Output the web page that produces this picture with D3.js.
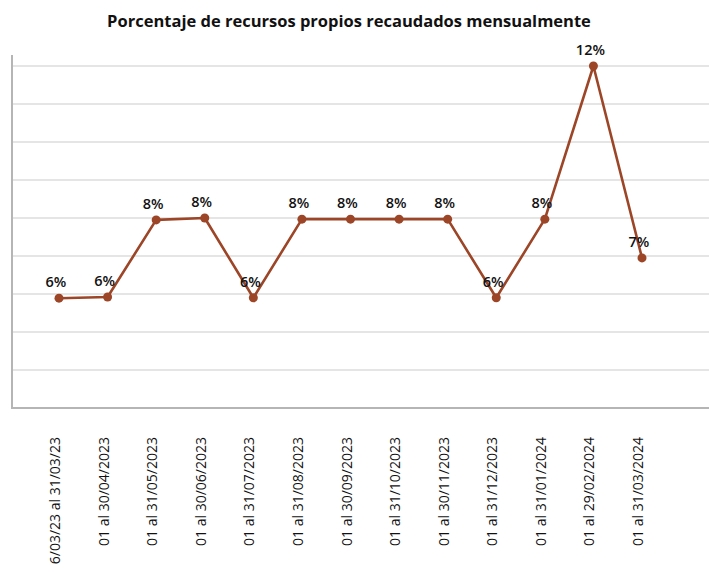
<!DOCTYPE html>
<html>
<head>
<meta charset="utf-8">
<script src="https://cdn.jsdelivr.net/npm/d3@7"></script>
<style>
  body { margin: 0; background: #fff; }
  svg { display: block; font-family: "Open Sans", "Noto Sans", sans-serif; }
</style>
</head>
<body>
<div id="chart"></div>
<script>
// periodos y porcentaje recaudado
const periods = [
    "6/03/23 al 31/03/23", "01 al 30/04/2023", "01 al 31/05/2023", "01 al 30/06/2023",
    "01 al 31/07/2023", "01 al 31/08/2023", "01 al 30/09/2023", "01 al 31/10/2023",
    "01 al 30/11/2023", "01 al 31/12/2023", "01 al 31/01/2024", "01 al 29/02/2024",
    "01 al 31/03/2024"
];
const values = [5.89, 5.92, 7.95, 8.0, 5.9, 7.97, 7.97, 7.97, 7.97, 5.9, 7.97, 12.0, 6.95];
const gridTicks = [3, 4, 5, 6, 7, 8, 9, 10, 11, 12];

function drawChart(id) {

    const width = 709;
    const height = 573;
    const color = "#9c4527";

    const svg = d3.select(id)
        .append("svg")
        .attr("width", width)
        .attr("height", height);

    const xScale = d3.scalePoint()
        .domain(periods)
        .range([59, 642]);

    const yScale = d3.scaleLinear()
        .domain([3, 12])
        .range([408, 66]);

    // title
    svg.append("text")
        .attr("x", 349)
        .attr("y", 27)
        .attr("text-anchor", "middle")
        .style("font-size", "16.5px")
        .style("font-weight", "bold")
        .style("fill", "#111")
        .text("Porcentaje de recursos propios recaudados mensualmente");

    // gridlines
    svg.append("g")
        .selectAll("line")
        .data(gridTicks.slice(1))
        .enter()
        .append("line")
            .attr("x1", 12)
            .attr("x2", width)
            .attr("y1", function(d) { return yScale(d); })
            .attr("y2", function(d) { return yScale(d); })
            .style("stroke", "#dcdcdc")
            .style("stroke-width", 1.3);

    // axes
    svg.append("line")
        .attr("x1", 12).attr("x2", 12)
        .attr("y1", 55).attr("y2", yScale(3))
        .style("stroke", "#b5b5b5")
        .style("stroke-width", 2);

    svg.append("line")
        .attr("x1", 11).attr("x2", width)
        .attr("y1", yScale(3)).attr("y2", yScale(3))
        .style("stroke", "#b5b5b5")
        .style("stroke-width", 2);

    // category labels
    svg.append("g")
        .selectAll("text")
        .data(periods)
        .enter()
        .append("text")
            .attr("transform", function(d) { return `translate(${xScale(d) + 1},437) rotate(-90)`; })
            .attr("text-anchor", "end")
            .style("font-size", "14px")
            .style("font-weight", 500)
            .style("fill", "#111")
            .text(function(d) { return d; });

    const line = d3.line()
        .x(function(d, i) { return xScale(periods[i]); })
        .y(function(d) { return yScale(d); });

    svg.append("path")
        .datum(values)
        .attr("d", line)
        .style("fill", "none")
        .style("stroke", color)
        .style("stroke-width", 2.6)
        .style("stroke-linejoin", "round");

    svg.append("g")
        .selectAll("circle")
        .data(values)
        .enter()
        .append("circle")
            .attr("cx", function(d, i) { return xScale(periods[i]); })
            .attr("cy", function(d) { return yScale(d); })
            .attr("r", 4.5)
            .style("fill", color);

    // data labels
    svg.append("g")
        .selectAll("text")
        .data(values)
        .enter()
        .append("text")
            .attr("x", function(d, i) { return xScale(periods[i]) - 3; })
            .attr("y", function(d) { return yScale(d) - 11; })
            .attr("text-anchor", "middle")
            .style("font-size", "14.5px")
            .style("font-weight", 600)
            .style("fill", "#111")
            .text(function(d) { return Math.round(d) + "%"; });
}

drawChart("#chart");
</script>
</body>
</html>
